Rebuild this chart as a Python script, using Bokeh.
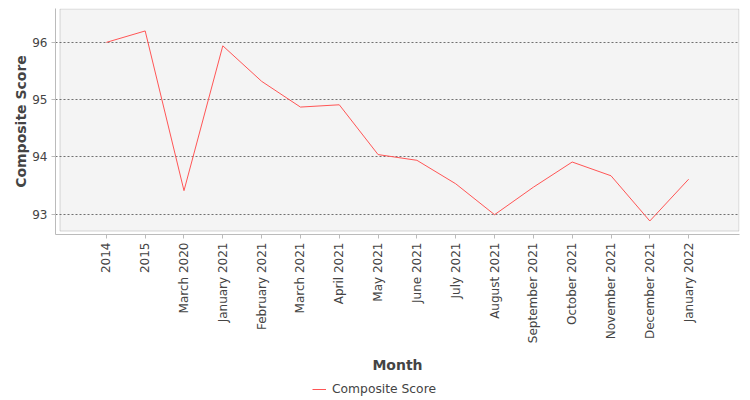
import math
from bokeh.plotting import figure
from bokeh.layouts import column
from bokeh.models import (FactorRange, Range1d, FixedTicker, BoxAnnotation,
                          Legend, LegendItem, ColumnDataSource)
from bokeh.embed import file_html
from bokeh.resources import INLINE

months = ["2014", "2015", "March 2020", "January 2021", "February 2021",
          "March 2021", "April 2021", "May 2021", "June 2021", "July 2021",
          "August 2021", "September 2021", "October 2021", "November 2021",
          "December 2021", "January 2022"]
scores = [96.00, 96.20, 93.41, 95.94, 95.32, 94.87, 94.91, 94.04, 93.94,
          93.53, 92.99, 93.47, 93.91, 93.67, 92.88, 93.61]
y_ticks = [93, 94, 95, 96]
series_name = "Composite Score"

FONT = "DejaVu Sans"
TXT = "#444444"
LINE = "#ff5555"

# layout parameters
pad = 0.81          # category padding (absolute)
y_lo, y_hi = 92.644, 96.592
frame_w, frame_h = 684, 229
px_x = frame_w / (len(months) + 2 * pad)
px_y = frame_h / (y_hi - y_lo)

src = ColumnDataSource(dict(month=months, score=scores))

p = figure(width=750, height=376,
           x_range=FactorRange(factors=months, range_padding=pad,
                               range_padding_units="absolute"),
           y_range=Range1d(y_lo, y_hi),
           output_backend="svg", toolbar_location=None,
           min_border_left=55, min_border_right=11,
           min_border_top=8, min_border_bottom=139)

p.outline_line_color = None
p.background_fill_color = "white"
p.border_fill_color = "white"

# inner plot box (offset from axes like the reference)
box = BoxAnnotation(left=-pad + 4.5 / px_x,
                    right=len(months) + pad - 0.5 / px_x,
                    top=y_hi - 0.5 / px_y,
                    bottom=y_lo + 3.5 / px_y,
                    fill_color="#f4f4f4", fill_alpha=1.0,
                    line_color="#808080", line_width=1, level="image")
p.add_layout(box)

r = p.line(x="month", y="score", source=src, line_color=LINE,
           line_width=1)

# axes
p.yaxis.ticker = FixedTicker(ticks=y_ticks)
p.ygrid.ticker = p.yaxis[0].ticker
p.xgrid.visible = False
p.ygrid.grid_line_color = "#707070"
p.ygrid.grid_line_dash = "2 2"
p.ygrid.grid_line_width = 1

for ax in (p.xaxis[0], p.yaxis[0]):
    ax.axis_line_color = "#bbbbbb"
    ax.major_tick_line_color = "#bbbbbb"
    ax.minor_tick_line_color = None
    ax.major_tick_in = 0
    ax.major_tick_out = 4
    ax.major_label_text_font = FONT
    ax.major_label_text_font_size = "12px"
    ax.major_label_text_color = TXT
    ax.major_label_standoff = 4
    ax.axis_label_text_font = FONT
    ax.axis_label_text_font_size = "14px"
    ax.axis_label_text_font_style = "bold"
    ax.axis_label_text_color = TXT

p.xaxis.axis_label = "Month"
p.yaxis.axis_label = series_name
p.xaxis.major_label_orientation = math.pi / 2
p.xaxis.axis_label_standoff = 11
p.yaxis.axis_label_standoff = 0

# legend strip below the chart (centred on the whole chart, as in the reference)
lg = figure(width=750, height=24,
            x_range=FactorRange(factors=months), y_range=Range1d(0, 1),
            x_axis_location=None, y_axis_location=None,
            output_backend="svg", toolbar_location=None,
            min_border_left=0, min_border_right=0,
            min_border_top=0, min_border_bottom=0)
lg.grid.visible = False
lg.outline_line_color = None
lg.border_fill_color = "white"
lg.background_fill_color = "white"
# same series; its values lie outside this strip's y-range, so only its legend shows
r2 = lg.line(x="month", y="score", source=src, line_color=LINE, line_width=1)

legend = Legend(items=[LegendItem(label=series_name, renderers=[r2])],
                location=(257, 1), orientation="horizontal",
                border_line_color=None, background_fill_alpha=0,
                label_text_font=FONT, label_text_font_size="12.3px",
                label_text_color=TXT, glyph_width=14, glyph_height=12,
                label_height=20, label_standoff=6, padding=0, margin=0,
                spacing=0)
lg.add_layout(legend, "center")

layout = column(p, lg, spacing=0)
open("out.html", "w").write(file_html(layout, INLINE))
